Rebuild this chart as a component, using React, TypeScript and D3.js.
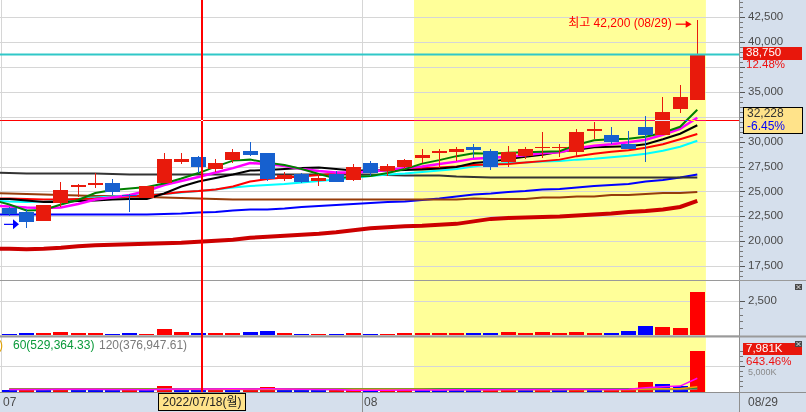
import React from "react";
import * as d3 from "d3";

// ---------- data ----------
const dates = [
  "2022/07/01", "2022/07/04", "2022/07/05", "2022/07/06", "2022/07/07", "2022/07/08",
  "2022/07/11", "2022/07/12", "2022/07/13", "2022/07/14", "2022/07/15",
  "2022/07/18", "2022/07/19", "2022/07/20", "2022/07/21", "2022/07/22",
  "2022/07/25", "2022/07/26", "2022/07/27", "2022/07/28", "2022/07/29",
  "2022/08/01", "2022/08/02", "2022/08/03", "2022/08/04", "2022/08/05",
  "2022/08/08", "2022/08/09", "2022/08/10", "2022/08/11", "2022/08/12",
  "2022/08/16", "2022/08/17", "2022/08/18", "2022/08/19",
  "2022/08/22", "2022/08/23", "2022/08/24", "2022/08/25", "2022/08/26",
  "2022/08/29",
];
const opens = [23350, 22950, 22050, 23800, 25450, 25650, 25850, 24650, 24350, 25900, 28000, 28500, 27300, 28200, 29100, 28900, 26300, 26750, 26050, 26800, 26150, 27850, 27100, 27500, 28400, 28850, 29000, 29450, 29100, 28000, 28600, 29400, 29350, 29000, 31050, 30700, 29750, 31450, 30700, 33250, 34200];
const highs = [23450, 23200, 23650, 25950, 25800, 26850, 26250, 24700, 25600, 28900, 28900, 28600, 28250, 29250, 30000, 28900, 26950, 26850, 26750, 27100, 27750, 28100, 27750, 28300, 29250, 29300, 29500, 29800, 29250, 29600, 29500, 30950, 29750, 31300, 31950, 31450, 31100, 32550, 34450, 35650, 42200];
const lows = [22550, 21350, 22000, 23400, 24400, 25350, 24650, 22950, 24300, 25900, 27750, 26900, 27000, 27850, 28600, 26050, 26050, 25900, 25550, 25950, 26050, 26600, 26550, 27250, 27850, 27400, 28100, 28400, 27200, 27500, 28250, 28400, 28500, 28600, 30250, 29750, 29250, 28000, 30700, 32850, 34200];
const closes = [22700, 21950, 23650, 25150, 25650, 25850, 24900, 24600, 25550, 28300, 28300, 27500, 27900, 29000, 28700, 26250, 26650, 25950, 26400, 25950, 27500, 26900, 27600, 28200, 28700, 29100, 29250, 29200, 27500, 29000, 29300, 29500, 29500, 31000, 31300, 29950, 29250, 30700, 32950, 34450, 38750];

// trading value panel (upper small panel)
const tradeValue = [100, 160, 175, 240, 165, 180, 95, 165, 90, 460, 240, 170, 175, 165, 245, 290, 165, 95, 100, 95, 170, 90, 100, 175, 165, 170, 175, 165, 170, 240, 170, 245, 165, 240, 175, 165, 290, 655, 605, 535, 3155];
// volume (K shares, lower panel)
const volumeK = [250, 460, 440, 590, 400, 390, 230, 420, 235, 1000, 520, 360, 366, 354, 504, 850, 384, 222, 215, 230, 378, 213, 216, 366, 360, 354, 351, 348, 360, 510, 354, 492, 348, 486, 330, 336, 700, 1860, 1400, 1073, 7981];
const volMA5 = [380, 400, 410, 440, 430, 460, 410, 410, 350, 460, 480, 510, 500, 520, 480, 520, 490, 460, 380, 370, 250, 250, 260, 285, 305, 300, 330, 356, 355, 385, 385, 410, 410, 440, 400, 390, 440, 750, 920, 1060, 2590];
const volMA20 = [420, 420, 425, 430, 430, 430, 425, 425, 420, 440, 445, 445, 445, 440, 440, 460, 460, 450, 445, 440, 445, 440, 430, 425, 420, 410, 400, 400, 395, 400, 395, 395, 390, 395, 395, 395, 410, 470, 520, 555, 930];
const volMA60 = [525, 526, 527, 527, 528, 528, 528, 528, 528, 529, 529, 529, 529, 529, 530, 531, 531, 530, 529, 528, 527, 526, 525, 524, 523, 522, 521, 520, 519, 520, 519, 519, 518, 519, 518, 517, 520, 540, 555, 565, 690];
const volMA120 = [372, 373, 374, 374, 375, 375, 376, 376, 376, 377, 377, 377, 377, 378, 378, 379, 379, 379, 379, 380, 380, 380, 380, 381, 381, 381, 381, 381, 381, 382, 382, 382, 382, 383, 383, 383, 385, 395, 405, 412, 475];

// price moving averages: first value is the session before 07/01
const maGreen = [24150, 23700, 23100, 23150, 23700, 24150, 24850, 25150, 25300, 25450, 25800, 26300, 26850, 27500, 28100, 28200, 27900, 27650, 27250, 26750, 26300, 26500, 26550, 26850, 27250, 27800, 28150, 28550, 28850, 28800, 28900, 28950, 29000, 29050, 29700, 30150, 30250, 30300, 30500, 30900, 31500, 33200];
const maMagenta = [23600, 23500, 23400, 23350, 23400, 23750, 24200, 24400, 24650, 25050, 25650, 26050, 26450, 26900, 27350, 27850, 27750, 27550, 27250, 27050, 26900, 26900, 27000, 27150, 27350, 27500, 27750, 28000, 28300, 28400, 28500, 28650, 28850, 28950, 29350, 29600, 29750, 29950, 30200, 30700, 31300, 32400];
const maBlack = [24250, 24250, 24100, 23950, 23950, 24050, 24100, 24200, 24250, 24250, 24800, 25500, 26000, 26350, 26700, 27100, 27150, 27250, 27350, 27400, 27250, 27100, 27100, 27100, 27150, 27200, 27300, 27450, 27850, 28000, 28250, 28500, 28700, 29000, 29200, 29450, 29500, 29550, 29750, 30250, 30800, 31650];
const maRed = [24300, 24300, 24250, 24200, 24200, 24250, 24300, 24400, 24500, 24600, 24750, 24950, 25050, 25200, 25500, 26000, 26250, 26400, 26500, 26650, 26750, 26900, 27050, 27150, 27250, 27350, 27400, 27500, 27650, 27700, 27750, 27900, 28050, 28200, 28550, 28800, 29000, 29150, 29400, 29750, 30250, 30775];
const maCyan = [24100, 24000, 23950, 24000, 24150, 24250, 24400, 24500, 24600, 24650, 24750, 24900, 25050, 25200, 25400, 25550, 25650, 25750, 25900, 26050, 26200, 26350, 26550, 26700, 26800, 26950, 27100, 27250, 27500, 27750, 27850, 27900, 28000, 28050, 28200, 28300, 28450, 28600, 28800, 29100, 29500, 30100];
const maDarkGray = [26900, 26850, 26800, 26800, 26800, 26800, 26800, 26750, 26700, 26700, 26700, 26700, 26700, 26700, 26700, 26700, 26700, 26700, 26700, 26700, 26700, 26700, 26700, 26650, 26600, 26600, 26600, 26500, 26450, 26400, 26400, 26400, 26400, 26400, 26400, 26400, 26400, 26400, 26400, 26400, 26400, 26400];
const maBrown = [24850, 24800, 24750, 24700, 24650, 24600, 24550, 24550, 24500, 24450, 24400, 24350, 24300, 24250, 24200, 24200, 24200, 24200, 24200, 24200, 24200, 24200, 24200, 24200, 24200, 24200, 24200, 24200, 24300, 24250, 24250, 24250, 24400, 24400, 24500, 24500, 24650, 24650, 24750, 24850, 24850, 24950];
const maBlue = [22700, 22700, 22700, 22700, 22700, 22700, 22700, 22700, 22700, 22700, 22750, 22800, 22900, 22950, 23100, 23200, 23200, 23300, 23450, 23550, 23650, 23750, 23850, 23950, 24000, 24150, 24300, 24500, 24700, 24800, 24950, 25050, 25200, 25250, 25400, 25550, 25650, 25750, 26000, 26150, 26400, 26700];
const maDarkRed = [19250, 19250, 19200, 19250, 19350, 19500, 19600, 19650, 19700, 19750, 19800, 19850, 19950, 20050, 20150, 20350, 20450, 20550, 20650, 20750, 20900, 21100, 21300, 21400, 21500, 21550, 21650, 21750, 22000, 22250, 22350, 22400, 22450, 22500, 22600, 22700, 22800, 22950, 23050, 23200, 23450, 24050];

const priceTicks = [17500, 20000, 22500, 25000, 27500, 30000, 32500, 35000, 37500, 40000, 42500];
const tradeTicks = [2500];
const volTicks = [5000];
const monthLabels = ["07", "08"];
const highlightStart = "2022/08/04";
const crossIndex = 11;
const crossPrice = 32228;
const crossDateLabel = "2022/07/18(월)";
const crossPct = "-6.45%";
const lastPctLabel = "12.48%";
const volLabel = "7,981K";
const volPctLabel = "643.46%";
const legendItems = [
  { text: "60(529,364.33)", color: "#0a9a3a" },
  { text: "120(376,947.61)", color: "#7a7a7a" },
];

// ---------- styling ----------
const FONT = "'Liberation Sans', Arial, 'Noto Sans CJK KR', sans-serif";
const CANDLE_RED = "#E81A0C";
const CANDLE_BLUE = "#1660CF";
const AXIS_BG = "#D5DFEC";
const GRID = "#d6d6d6";
const TEXT = "#4a4a4a";

const PLOT_R = 739;

export default function App() {
  const x = d3.scaleBand<string>().domain(dates).range([0.7, 705.9]).padding(0);
  const bw = x.bandwidth();
  const left = (d: string) => x(d) as number;
  const cx = (i: number) => left(dates[0]) + bw / 2 + i * bw;

  const y = d3.scaleLinear().domain([17500, 42500]).range([266.2, 17.2]);
  const yt = d3.scaleLinear().domain([0, 2500]).range([335, 301]);
  const yv = d3.scaleLinear().domain([0, 5000]).range([391.5, 366]);

  const fmt = d3.format(",");
  const maLine = d3.line<number>().x((_, i) => cx(i - 1)).y((v) => y(v));
  const volLine = d3.line<number>().x((_, i) => cx(i)).y((v) => yv(v));

  const maDefs = [
    { v: maDarkRed, c: "#CC0000", w: 4 },
    { v: maBlue, c: "#0000FF", w: 2 },
    { v: maBrown, c: "#963C0A", w: 2 },
    { v: maDarkGray, c: "#333333", w: 2 },
    { v: maCyan, c: "#00FFFF", w: 2 },
    { v: maRed, c: "#FF0000", w: 2 },
    { v: maBlack, c: "#000000", w: 2 },
    { v: maMagenta, c: "#FF00FF", w: 2.5 },
    { v: maGreen, c: "#008000", w: 2 },
  ];
  const volMaDefs = [
    { v: volMA120, c: "#808080" },
    { v: volMA60, c: "#0a9a3a" },
    { v: volMA20, c: "#FF9900" },
    { v: volMA5, c: "#FF00FF" },
  ];

  const hlX0 = Math.round(left(highlightStart) + 1);
  const hlX1 = left(dates[dates.length - 1]) + bw;

  const monthStarts = dates
    .map((d, i) => ({ d, i }))
    .filter(({ d, i }) => i === 0 || d.slice(5, 7) !== dates[i - 1].slice(5, 7));

  const minorPrice = d3.range(15000, 45001, 500).filter((v) => v % 2500 !== 0 && y(v) > 0 && y(v) < 280);

  const last = dates.length - 1;
  const hiIdx = d3.maxIndex(highs);
  const loIdx = d3.minIndex(lows);
  const hiY = y(highs[hiIdx]) + 4;
  const loY = y(lows[loIdx]) - 3.5;
  const hiArrowEnd = cx(hiIdx) - 5.6;
  const loArrowEnd = cx(loIdx) - 7.5;

  const crossXpx = Math.round(cx(crossIndex) + 3);
  const crossY = Math.round(y(crossPrice)) + 0.5;
  const lastY = y(closes[last]);

  const boxes = [
    [Math.round(lastY) - 8, Math.round(lastY) + 17],
    [Math.round(crossY) - 14, Math.round(crossY) + 13],
  ];
  const visiblePriceLabels = priceTicks.filter(
    (t) => !boxes.some(([a, b]) => y(t) > a - 4 && y(t) < b + 4)
  );

  return (
    <svg
      width={806}
      height={412}
      style={{ position: "fixed", left: 0, top: 0, display: "block", background: "#fff" }}
      fontFamily={FONT}
    >
      <defs>
        <clipPath id="pc">
          <rect x={0} y={0} width={PLOT_R} height={280} />
        </clipPath>
        <clipPath id="vc">
          <rect x={0} y={337} width={PLOT_R} height={55} />
        </clipPath>
      </defs>
      <rect x={0} y={0} width={806} height={412} fill="#fff" />
      <rect x={hlX0} y={0} width={hlX1 - hlX0} height={392} fill="#FFFF99" />

      {priceTicks.map((t) => (
        <line key={t} x1={0} x2={PLOT_R} y1={Math.round(y(t)) + 0.5} y2={Math.round(y(t)) + 0.5} stroke={GRID} />
      ))}
      {tradeTicks.map((t) => (
        <line key={"t" + t} x1={0} x2={PLOT_R} y1={Math.round(yt(t)) + 0.5} y2={Math.round(yt(t)) + 0.5} stroke={GRID} />
      ))}
      <line x1={0} x2={PLOT_R} y1={335.5} y2={335.5} stroke={GRID} />
      {volTicks.map((t) => (
        <line key={"v" + t} x1={0} x2={PLOT_R} y1={Math.round(yv(t)) + 0.5} y2={Math.round(yv(t)) + 0.5} stroke={GRID} />
      ))}
      {monthStarts.map(({ d }) => (
        <line key={"m" + d} x1={Math.round(left(d)) + 0.5} x2={Math.round(left(d)) + 0.5} y1={0} y2={392} stroke={GRID} />
      ))}

      <g clipPath="url(#pc)">
        {maDefs.map((m, k) => (
          <path key={k} d={maLine(m.v) || ""} fill="none" stroke={m.c} strokeWidth={m.w} />
        ))}
        {dates.map((d, i) => {
          const up = closes[i] >= opens[i];
          const col = up ? CANDLE_RED : CANDLE_BLUE;
          const bx = Math.round(left(d) + 1.1);
          const top = Math.round(y(Math.max(opens[i], closes[i])));
          const bot = Math.round(y(Math.min(opens[i], closes[i])));
          const hy = Math.round(y(highs[i]));
          const ly = Math.round(y(lows[i]));
          return (
            <g key={d}>
              <rect x={bx + 7} y={hy} width={1} height={Math.max(ly - hy, 1)} fill={col} />
              <rect x={bx} y={top} width={15} height={Math.max(bot - top, 1)} fill={col} />
            </g>
          );
        })}
        <line x1={0} x2={PLOT_R} y1={lastY} y2={lastY} stroke="#30C8C8" strokeWidth={2} />
        <text x={hiArrowEnd - 20} y={hiY} fill="#FF0000" fontSize={12} textAnchor="end" dominantBaseline="middle">
          {`최고 ${fmt(highs[hiIdx])} (${dates[hiIdx].slice(5)})`}
        </text>
        <line x1={hiArrowEnd - 16} x2={hiArrowEnd - 5} y1={hiY} y2={hiY} stroke="#FF0000" strokeWidth={1.2} />
        <polygon points={`${hiArrowEnd - 6},${hiY - 3.5} ${hiArrowEnd},${hiY} ${hiArrowEnd - 6},${hiY + 3.5}`} fill="#FF0000" />
        <line x1={4} x2={loArrowEnd - 5} y1={loY} y2={loY} stroke="#0000FF" strokeWidth={1.2} />
        <polygon points={`${loArrowEnd - 6},${loY - 5} ${loArrowEnd},${loY} ${loArrowEnd - 6},${loY + 5}`} fill="#0000FF" />
      </g>

      {dates.map((d, i) => {
        const up = closes[i] >= opens[i];
        const bx = Math.round(left(d) + 1.1);
        const top = Math.round(yt(tradeValue[i]));
        return <rect key={"tv" + d} x={bx} y={top} width={15} height={Math.max(335 - top, 1)} fill={up ? "#FF0000" : "#0000FF"} />;
      })}

      <g clipPath="url(#vc)">
        {dates.map((d, i) => {
          const up = i > 0 ? volumeK[i] > volumeK[i - 1] : false;
          const bx = Math.round(left(d) + 1.1);
          const top = Math.round(yv(volumeK[i]));
          return <rect key={"vb" + d} x={bx} y={top} width={15} height={Math.max(392 - top, 1)} fill={up ? "#FF0000" : "#0000FF"} />;
        })}
        {volMaDefs.map((m, k) => (
          <path key={"vm" + k} d={volLine(m.v) || ""} fill="none" stroke={m.c} strokeWidth={1.5} />
        ))}
      </g>
      <text x={-1} y={346} fontSize={12} fill="#E0A000" dominantBaseline="middle">)</text>
      <text x={13} y={346} fontSize={12} fill={legendItems[0].color} dominantBaseline="middle">{legendItems[0].text}</text>
      <text x={99} y={346} fontSize={12} fill={legendItems[1].color} dominantBaseline="middle">{legendItems[1].text}</text>

      <line x1={0} x2={PLOT_R} y1={280.5} y2={280.5} stroke="#9a9a9a" />
      <line x1={0} x2={PLOT_R} y1={336.5} y2={336.5} stroke="#9a9a9a" strokeWidth={2} />

      {/* crosshair */}
      <rect x={crossXpx - 1} y={0} width={2} height={392} fill="#FF0000" />
      <g style={{ mixBlendMode: "difference" }}>
        <line x1={0} x2={PLOT_R} y1={crossY} y2={crossY} stroke="#00FFFF" />
      </g>

      {/* right axis */}
      <rect x={PLOT_R} y={0} width={806 - PLOT_R} height={412} fill={AXIS_BG} />
      <line x1={PLOT_R + 0.5} x2={PLOT_R + 0.5} y1={0} y2={412} stroke="#8f8f8f" />
      <line x1={PLOT_R} x2={806} y1={280.5} y2={280.5} stroke="#9a9a9a" />
      <line x1={PLOT_R} x2={806} y1={336.5} y2={336.5} stroke="#9a9a9a" strokeWidth={2} />
      {priceTicks.map((t) => (
        <line key={"ptk" + t} x1={740} x2={745} y1={Math.round(y(t)) + 0.5} y2={Math.round(y(t)) + 0.5} stroke="#555" />
      ))}
      {visiblePriceLabels.map((t) => (
        <text key={"pt" + t} x={748} y={y(t)} fontSize={11.5} fill={TEXT} dominantBaseline="middle">{fmt(t)}</text>
      ))}
      {minorPrice.map((t) => (
        <line key={"mp" + t} x1={740} x2={743} y1={Math.round(y(t)) + 0.5} y2={Math.round(y(t)) + 0.5} stroke="#777" />
      ))}
      {tradeTicks.map((t) => (
        <g key={"tt" + t}>
          <line x1={740} x2={745} y1={Math.round(yt(t)) + 0.5} y2={Math.round(yt(t)) + 0.5} stroke="#555" />
          <text x={748} y={yt(t)} fontSize={11.5} fill={TEXT} dominantBaseline="middle">{fmt(t)}</text>
        </g>
      ))}
      {[500, 1000, 1500, 2000].map((t) => (
        <line key={"mt" + t} x1={740} x2={743} y1={Math.round(yt(t)) + 0.5} y2={Math.round(yt(t)) + 0.5} stroke="#777" />
      ))}
      {volTicks.map((t) => (
        <line key={"vtk" + t} x1={740} x2={745} y1={Math.round(yv(t)) + 0.5} y2={Math.round(yv(t)) + 0.5} stroke="#555" />
      ))}
      {[1000, 2000, 3000, 4000, 6000, 7000, 8000].map((t) => (
        <line key={"mv" + t} x1={740} x2={743} y1={Math.round(yv(t)) + 0.5} y2={Math.round(yv(t)) + 0.5} stroke="#777" />
      ))}
      <text x={748} y={373} fontSize={9} fill="#8a8a8a" dominantBaseline="middle">{fmt(volTicks[0])}K</text>

      {/* current price labels */}
      <rect x={743} y={Math.round(lastY) - 8} width={59} height={13} fill="#E8170C" />
      <text x={746} y={lastY - 1.5} fontSize={11.5} fill="#fff" dominantBaseline="middle">{fmt(closes[last])}</text>
      <text x={746} y={lastY + 10.5} fontSize={11.5} fill="#EE1111" dominantBaseline="middle">{lastPctLabel}</text>

      {/* crosshair price box */}
      <rect x={743.5} y={Math.round(crossY) - 13.5} width={59} height={26} fill="#FFE38A" stroke="#000" />
      <text x={747} y={crossY - 6.5} fontSize={12} fill="#333" dominantBaseline="middle">{fmt(crossPrice)}</text>
      <text x={747} y={crossY + 6} fontSize={12} fill="#0000FF" dominantBaseline="middle">{crossPct}</text>

      {/* volume labels */}
      <rect x={743} y={343} width={59} height={12} fill="#E8170C" />
      <text x={746} y={349} fontSize={11.5} fill="#fff" dominantBaseline="middle">{volLabel}</text>
      <text x={746} y={362} fontSize={11.5} fill="#EE1111" dominantBaseline="middle">{volPctLabel}</text>

      {[284, 341].map((yy) => (
        <g key={"ci" + yy}>
          <rect x={795} y={yy} width={7} height={6} fill="#4a4a4a" />
          <line x1={796.5} x2={800.5} y1={yy + 1} y2={yy + 5} stroke="#fff" strokeWidth={0.8} />
          <line x1={800.5} x2={796.5} y1={yy + 1} y2={yy + 5} stroke="#fff" strokeWidth={0.8} />
        </g>
      ))}

      {/* bottom axis */}
      <rect x={0} y={392} width={806} height={20} fill={AXIS_BG} />
      <line x1={0} x2={806} y1={392.5} y2={392.5} stroke="#8f8f8f" />
      <line x1={PLOT_R + 0.5} x2={PLOT_R + 0.5} y1={392} y2={412} stroke="#8f8f8f" />
      {monthStarts.map(({ d }, k) => (
        <g key={"ml" + d}>
          {k > 0 && (
            <line x1={Math.round(left(d)) + 0.5} x2={Math.round(left(d)) + 0.5} y1={392} y2={412} stroke="#8f8f8f" />
          )}
          <text x={Math.round(left(d)) + 2} y={403} fontSize={12} fill={TEXT} dominantBaseline="middle">
            {monthLabels[k]}
          </text>
        </g>
      ))}
      <text x={748} y={403} fontSize={12} fill={TEXT} dominantBaseline="middle">{dates[last].slice(5)}</text>

      <rect x={158.5} y={393.5} width={87} height={17} fill="#FFE38A" stroke="#000" />
      <text x={202} y={402.5} fontSize={12} fill="#222" textAnchor="middle" dominantBaseline="middle">
        {crossDateLabel}
      </text>
    </svg>
  );
}
